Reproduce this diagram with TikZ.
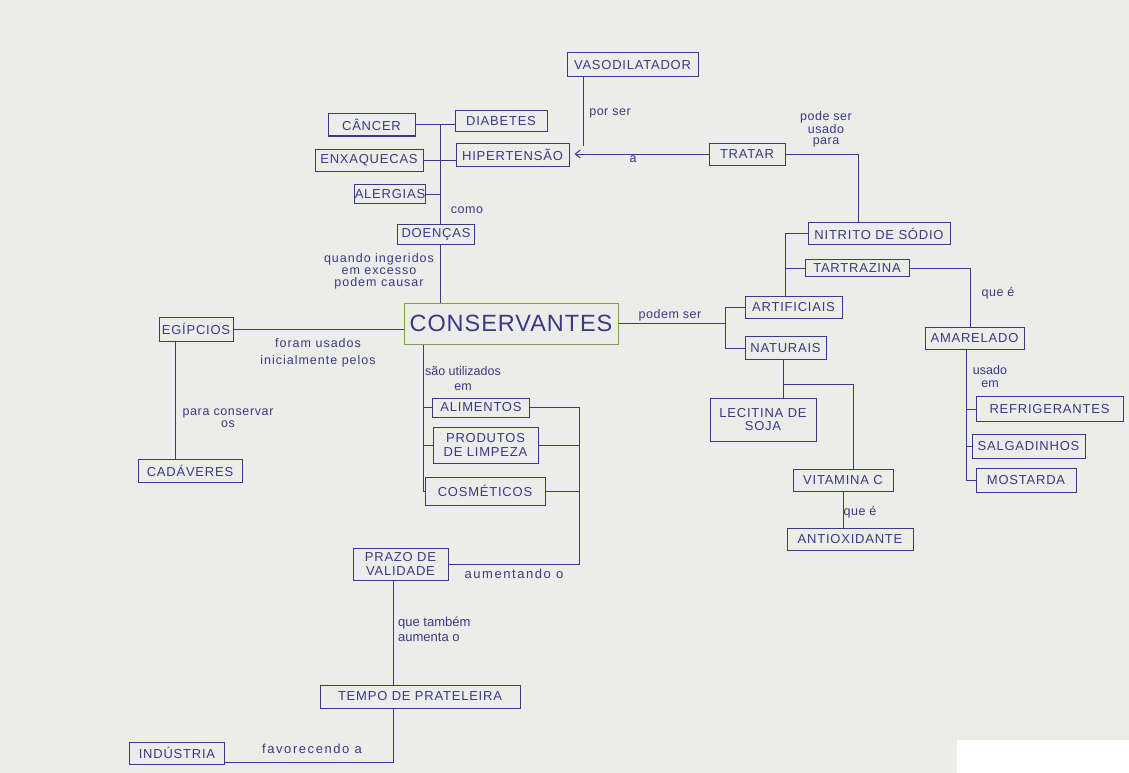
\documentclass[tikz,border=0pt]{standalone}
\usepackage{fontspec}
\setmainfont{Liberation Sans}
\usetikzlibrary{arrows.meta}
\definecolor{ink}{RGB}{58,58,135}
\definecolor{paper}{RGB}{236,236,233}
\definecolor{leaf}{RGB}{120,160,80}
\begin{document}
\begin{tikzpicture}[x=1pt,y=-1pt,
  box/.style={draw=ink, line width=1pt, text=ink, inner sep=0pt, align=center,
    font=\fontsize{13}{13.5}\selectfont\addfontfeatures{LetterSpace=6}},
  sz/.style 2 args={minimum width=#1pt, minimum height=#2pt},
  lbl/.style={text=ink, inner sep=0pt, align=center,
    font=\fontsize{12.5}{11}\selectfont\addfontfeatures{LetterSpace=4}},
  wide/.style={font=\fontsize{13}{11}\selectfont\addfontfeatures{LetterSpace=12}},
  wire/.style={draw=ink, line width=1pt}]
\fill[paper] (0,0) rectangle (1129,773);
\useasboundingbox (0,0) rectangle (1129,773);
\fill[white] (957,740) rectangle (1129,773);

% ---------- nodes ----------
\node[box, sz={131}{24}] (vaso) at (632.5,65) {VASODILATADOR};
\node[box, sz={87}{22}] (cancer) at (371.5,125) {CÂNCER};
\node[box, sz={92}{21}] (diab) at (501,121.5) {DIABETES};
\node[box, sz={108}{22}] (enx) at (369,160) {ENXAQUECAS};
\node[box, sz={113}{23}] (hiper) at (512.5,154.5) {HIPERTENSÃO};
\node[box, sz={70}{19}] (alerg) at (390,194) {ALERGIAS};
\node[box, sz={77}{20}] (doenc) at (436,234) {DOENÇAS};
\node[box, draw=leaf, sz={214}{41}, font=\fontsize{23.5}{24}\selectfont\addfontfeatures{LetterSpace=4}] (cons) at (511,323.5) {CONSERVANTES};
\node[box, sz={74}{24}] (egip) at (196,329) {EGÍPCIOS};
\node[box, sz={104}{23}] (cadav) at (190,471) {CADÁVERES};
\node[box, sz={97}{19}] (alim) at (481,407.5) {ALIMENTOS};
\node[box, sz={105}{36}] (prod) at (485.5,445) {PRODUTOS\\DE LIMPEZA};
\node[box, sz={120}{28}] (cosm) at (485,491) {COSMÉTICOS};
\node[box, sz={95}{32}] (prazo) at (400.5,564) {PRAZO DE\\VALIDADE};
\node[box, sz={200}{23}] (tempo) at (420,696.5) {TEMPO DE PRATELEIRA};
\node[box, sz={95}{22}] (indus) at (177,753) {INDÚSTRIA};
\node[box, sz={76}{22}] (tratar) at (747,154) {TRATAR};
\node[box, sz={142}{22}] (nitr) at (879,233.5) {NITRITO DE SÓDIO};
\node[box, sz={104}{17}] (tart) at (857,268) {TARTRAZINA};
\node[box, sz={97}{22}] (artif) at (793.5,307) {ARTIFICIAIS};
\node[box, sz={81}{23}] (natur) at (785.5,348) {NATURAIS};
\node[box, sz={99}{22}] (amar) at (974.5,338) {AMARELADO};
\node[box, sz={147}{25}] (refri) at (1049.5,409) {REFRIGERANTES};
\node[box, sz={113}{24}] (salg) at (1028.5,446) {SALGADINHOS};
\node[box, sz={100}{24}] (most) at (1026,480) {MOSTARDA};
\node[box, sz={106}{43}] (leci) at (763,419.5) {LECITINA DE\\SOJA};
\node[box, sz={100}{22}] (vitc) at (843,480) {VITAMINA C};
\node[box, sz={126}{22}] (anti) at (850,539) {ANTIOXIDANTE};

% ---------- junction coordinates ----------
\coordinate (tk) at (440,0);
\coordinate (bt) at (423,0);
\coordinate (cr) at (579,0);
\coordinate (pv) at (393,0);
\coordinate (ij) at (393,762);
\coordinate (bj) at (725,0);
\coordinate (av) at (785,0);
\coordinate (tn) at (858,0);
\coordinate (ta) at (970,0);
\coordinate (am) at (966,0);
\coordinate (nj) at (783,384);
\coordinate (nr) at (853,384);
\coordinate (vj) at (583,146);
\coordinate (eg) at (175,0);

% ---------- connectors ----------
\draw[wire] (cancer.east) -- (diab.west |- cancer.east);
\draw[wire] (enx.east) -- (hiper.west |- enx.east);
\draw[wire] (alerg.east) -- (alerg.east -| tk);
\draw[wire] (tk |- cancer.east) -- (tk |- doenc.north);
\draw[wire] (tk |- doenc.south) -- (tk |- cons.north);

\draw[wire] (egip.east) -- (cons.west |- egip.east);
\draw[wire] (eg |- egip.south) -- (eg |- cadav.north);

\draw[wire] (bt |- cons.south) |- (cosm.west);
\draw[wire] (alim.west) -- (alim.west -| bt);
\draw[wire] (prod.west) -- (prod.west -| bt);
\draw[wire] (alim.east) -| (cr |- prazo.east) -- (prazo.east);
\draw[wire] (prod.east) -- (prod.east -| cr);
\draw[wire] (cosm.east) -- (cosm.east -| cr);
\draw[wire] (pv |- prazo.south) -- (pv |- tempo.north);
\draw[wire] (pv |- tempo.south) -- (ij) -- (indus.east |- ij);

\draw[wire, -{Straight Barb[length=5pt,width=8pt]}, shorten >=5pt] (tratar.west) -- (hiper.east |- tratar.west);
\draw[wire] (vj) -- (vj |- vaso.south);
\draw[wire] (tratar.east) -| (tn |- nitr.north);

\draw[wire] (cons.east) -- (cons.east -| bj);
\draw[wire] (artif.west) -| (bj |- natur.west) -- (natur.west);
\draw[wire] (av |- artif.north) |- (nitr.west);
\draw[wire] (tart.west) -- (tart.west -| av);
\draw[wire] (tart.east) -| (ta |- amar.north);
\draw[wire] (am |- amar.south) |- (most.west);
\draw[wire] (refri.west) -- (refri.west -| am);
\draw[wire] (salg.west) -- (salg.west -| am);

\draw[wire] (nj |- natur.south) -- (nj) -- (nr) -- (nr |- vitc.north);
\draw[wire] (nj) -- (nj |- leci.north);
\draw[wire] (vitc.south) -- (vitc.south |- anti.north);

% ---------- labels ----------
\node[lbl] (lporser) at (610,113) {por ser};
\node[lbl] (la) at (633,159) {a};
\node[lbl] (lpode) at (826,129) {pode ser\\usado\\para};
\node[lbl] (lcomo) at (467,210) {como};
\node[lbl, font=\fontsize{12.5}{12}\selectfont\addfontfeatures{LetterSpace=8}] (lquando) at (379,271) {quando ingeridos\\em excesso\\podem causar};
\node[lbl, font=\fontsize{12.5}{16.5}\selectfont\addfontfeatures{LetterSpace=8}] (lforam) at (318,353) {foram usados\\inicialmente pelos};
\node[lbl, font=\fontsize{12.5}{11.5}\selectfont\addfontfeatures{LetterSpace=5}] (lpara) at (228,418) {para conservar\\os};
\node[lbl, font=\fontsize{12.5}{15}\selectfont] (lsao) at (463,379) {são utilizados\\em};
\node[lbl] (lpodem) at (670,315) {podem ser};
\node[lbl] (lquee1) at (998,293) {que é};
\node[lbl, font=\fontsize{12.5}{13}\selectfont] (lusado) at (990,377) {usado\\em};
\node[lbl] (lquee2) at (860,512) {que é};
\node[lbl, wide] (laum) at (514,574) {aumentando o};
\node[lbl, anchor=west, align=left, font=\fontsize{13}{15}\selectfont] (ltamb) at (398,629) {que também\\aumenta o};
\node[lbl, wide] (lfav) at (312,749) {favorecendo a};
\end{tikzpicture}
\end{document}
